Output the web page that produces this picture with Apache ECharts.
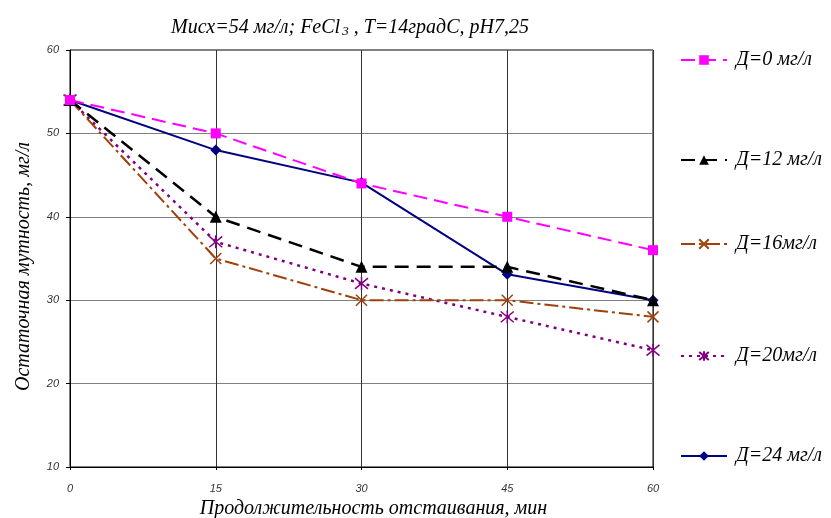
<!DOCTYPE html>
<html><head><meta charset="utf-8">
<script src="https://cdn.jsdelivr.net/npm/echarts@6/dist/echarts.min.js"></script>
<style>html,body{margin:0;padding:0;background:#fff}#c{width:831px;height:518px}</style>
</head><body><div id="c"></div>
<script>
const xValues = [0, 15, 30, 45, 60];
const yTicks = [10, 20, 30, 40, 50, 60];
const seriesNames = ['Д=0 мг/л', 'Д=12 мг/л', 'Д=16мг/л', 'Д=20мг/л', 'Д=24 мг/л'];
const d0 = [54, 50, 44, 40, 36];
const d12 = [54, 40, 34, 34, 30];
const d16 = [54, 35, 30, 30, 28];
const d20 = [54, 37, 32, 28, 24];
const d24 = [54, 48, 44.1, 33.1, 30];

const serif = 'Liberation Serif';
const pair = arr => arr.map((v, i) => [xValues[i], v]);
const cross = 'path://M0,0L10,10M10,0L0,10';
const star = 'path://M0,0L10,10M10,0L0,10M5,-1L5,11';

const styles = [
  {color:'#FF00FF', type:[14,7], width:2, symbol:'rect', size:10},
  {color:'#000000', type:[14,8], width:2.5, symbol:'triangle', size:12},
  {color:'#A0400A', type:[14,4,3,4], width:2, symbol:cross, size:11, stroke:true},
  {color:'#800080', type:[3,5], width:2.5, symbol:star, size:13, stroke:true},
  {color:'#000080', type:'solid', width:2, symbol:'diamond', size:11}
];
const datas = [d0, d12, d16, d20, d24];

const series = seriesNames.map((n, i) => {
  const s = styles[i];
  return {
    name: n, type: 'line', data: pair(datas[i]),
    symbol: s.symbol, symbolSize: s.size, z: 10 - i,
    lineStyle: {color: s.color, type: s.type, width: s.width},
    itemStyle: s.stroke ? {color: 'rgba(0,0,0,0)', borderColor: s.color, borderWidth: 1.5}
                        : {color: s.color, borderColor: s.color, borderWidth: 0},
    emphasis: {disabled: true},
    animation: false
  };
});

const legendTops = [57, 157, 241, 353, 453];
const legends = seriesNames.map((n, i) => ({
  data: [n], left: 675, top: legendTops[i] - 12, itemWidth: 46, itemHeight: 12, itemGap: 5,
  textStyle: {fontFamily: serif, fontStyle: 'italic', fontSize: 20, color: '#000', padding: [0, 0, 0, 4]},
  selectedMode: false
}));

const chart = echarts.init(document.getElementById('c'));
chart.setOption({
  backgroundColor: '#fff',
  title: {
    text: 'Мисх=54 мг/л; FeCl{sub|3} , T=14градС, pH7,25',
    left: 166, top: 12,
    textStyle: {fontFamily: serif, fontStyle: 'italic', fontWeight: 'normal', fontSize: 20, color: '#000',
      rich: {sub: {fontFamily: serif, fontStyle: 'italic', fontSize: 13, padding: [8, 0, 0, 2], color: '#000'}}}
  },
  legend: legends,
  grid: {left: 70, right: 178, top: 50, bottom: 51, show: true, borderColor: '#000', borderWidth: 1,
         containLabel: false, outerBoundsMode: 'none'},
  xAxis: {
    type: 'value', min: 0, max: 60, interval: 15,
    name: 'Продолжительность отстаивания, мин', nameLocation: 'middle', nameGap: 29,
    nameTextStyle: {fontFamily: serif, fontStyle: 'italic', fontSize: 20, color: '#000', padding: [0, 0, 0, 24]},
    axisLine: {lineStyle: {color: '#000', width: 1}},
    axisTick: {show: true, length: 3, lineStyle: {color: '#000'}},
    axisLabel: {fontFamily: 'Liberation Sans', fontStyle: 'italic', fontSize: 11, color: '#333', margin: 16},
    splitLine: {show: true, lineStyle: {color: '#333', width: 1}}
  },
  yAxis: {
    type: 'value', min: yTicks[0], max: yTicks[yTicks.length - 1], interval: 10,
    name: 'Остаточная мутность, мг/л', nameLocation: 'middle', nameGap: 36,
    nameTextStyle: {fontFamily: serif, fontStyle: 'italic', fontSize: 20, color: '#000', padding: [0, 16, 0, 0]},
    axisLine: {show: true, lineStyle: {color: '#000', width: 1}},
    axisTick: {show: true, length: 4, lineStyle: {color: '#000'}},
    axisLabel: {fontFamily: 'Liberation Sans', fontStyle: 'italic', fontSize: 11, color: '#333', margin: 11},
    splitLine: {show: true, lineStyle: {color: '#808080', width: 1}}
  },
  series: series
});
</script></body></html>
